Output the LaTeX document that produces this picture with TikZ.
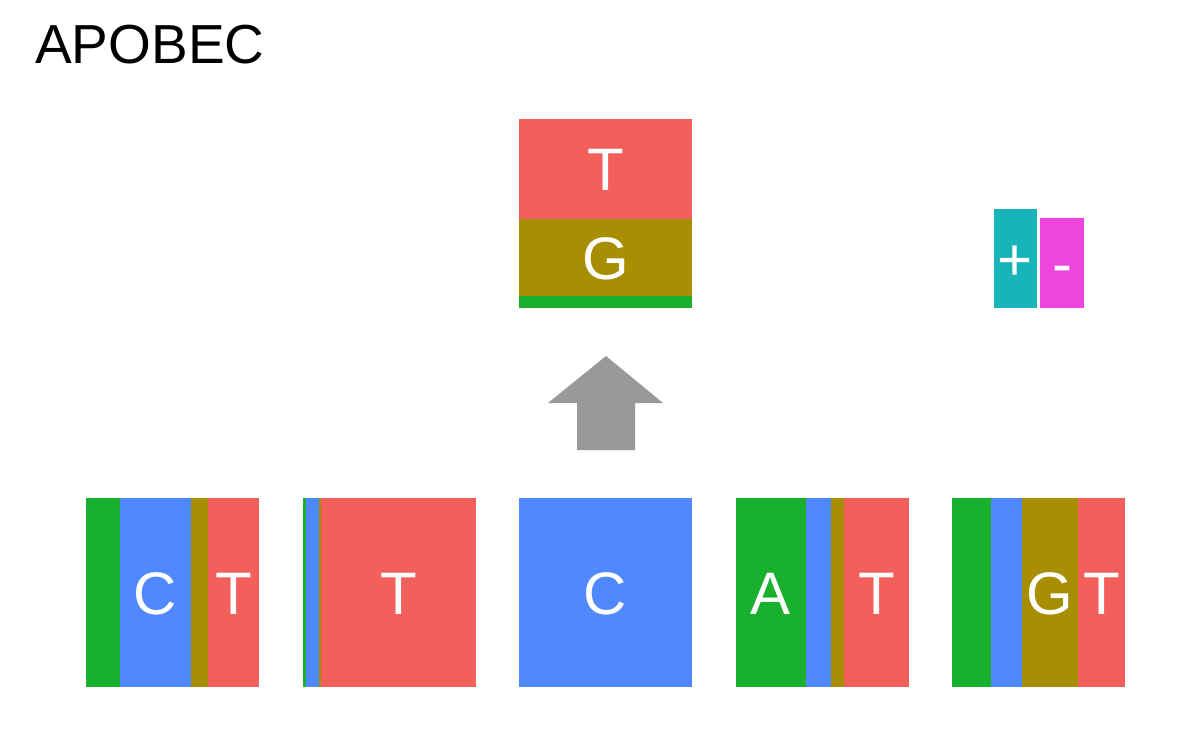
\documentclass[tikz,border=0pt]{standalone}
\usepackage{fontspec}
\setmainfont{Liberation Sans}
\definecolor{nred}{HTML}{F3605C}
\definecolor{nblue}{HTML}{5088FF}
\definecolor{ngreen}{HTML}{19B02E}
\definecolor{nolive}{HTML}{A88E03}
\definecolor{ngrey}{HTML}{999999}
\definecolor{nteal}{HTML}{17B4BA}
\definecolor{nmag}{HTML}{EF45DF}
\tikzset{
  seg/.style={inner sep=0pt, outer sep=0pt},
  lab/.style={anchor=base, inner sep=0pt, text=white, font=\fontsize{60}{72}\selectfont},
  ttl/.style={anchor=base west, inner sep=0pt, text=black, font=\fontsize{55}{66}\selectfont}
}
\begin{document}
\begin{tikzpicture}[x=1pt,y=-1pt]
\useasboundingbox[fill=white] (0,0) rectangle (1200,750);
% title
\node[ttl] (title) at (35,63) {APOBEC};
% top box
\fill[nred]   (519,119) rectangle (692,219);
\fill[nolive] (519,219) rectangle (692,296);
\fill[ngreen] (519,296) rectangle (692,308);
\node[lab] (topT) at (605.5,190.5) {T};
\node[lab] (topG) at (605.5,279) {G};
% arrow
\fill[ngrey] (606,356) -- (663,403) -- (635,403) -- (635,450) -- (577,450) -- (577,403) -- (548,403) -- cycle;
% plus / minus
\fill[nteal] (994,209) rectangle (1037,308);
\fill[nmag]  (1040,218) rectangle (1084,308);
\node[lab] (plus) at (1015.5,280) {+};
\node[lab] (minus) at (1062,284) {-};
% box 1
\fill[ngreen] (86,498) rectangle (120,687);
\fill[nblue]  (120,498) rectangle (191,687);
\fill[nolive] (191,498) rectangle (208,687);
\fill[nred]   (208,498) rectangle (259,687);
\node[lab] (b1C) at (155.5,614) {C};
\node[lab] (b1T) at (233.5,614) {T};
% box 2
\fill[ngreen] (303,498) rectangle (306,687);
\fill[nblue]  (306,498) rectangle (319,687);
\fill[nolive] (319,498) rectangle (321,687);
\fill[nred]   (321,498) rectangle (476,687);
\node[lab] (b2T) at (398.5,614) {T};
% box 3
\fill[nblue] (519,498) rectangle (692,687);
\node[lab] (b3C) at (605.5,614) {C};
% box 4
\fill[ngreen] (736,498) rectangle (806,687);
\fill[nblue]  (806,498) rectangle (831,687);
\fill[nolive] (831,498) rectangle (844,687);
\fill[nred]   (844,498) rectangle (909,687);
\node[lab] (b4A) at (771,614) {A};
\node[lab] (b4T) at (876.5,614) {T};
% box 5
\fill[ngreen] (952,498) rectangle (991,687);
\fill[nblue]  (991,498) rectangle (1022,687);
\fill[nolive] (1022,498) rectangle (1078,687);
\fill[nred]   (1078,498) rectangle (1125,687);
\node[lab] (b5G) at (1050,614) {G};
\node[lab] (b5T) at (1101.5,614) {T};
\end{tikzpicture}
\end{document}
